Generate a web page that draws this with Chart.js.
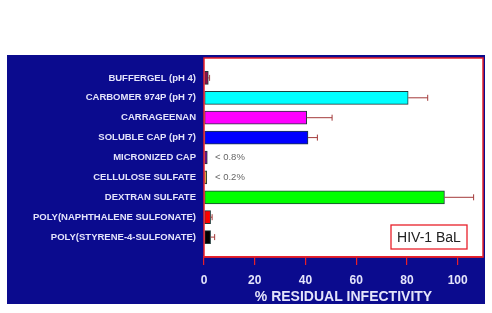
<!DOCTYPE html>
<html>
<head>
<meta charset="utf-8">
<script src="https://cdn.jsdelivr.net/npm/chart.js@4"></script>
<style>
  html, body { margin: 0; padding: 0; background: #ffffff; }
  #wrap { width: 492px; height: 313px; }
</style>
</head>
<body>
<div id="wrap"><canvas id="c" width="492" height="313"></canvas></div>
<script>
const categories = ['BUFFERGEL (pH 4)', 'CARBOMER 974P (pH 7)', 'CARRAGEENAN', 'SOLUBLE CAP (pH 7)', 'MICRONIZED CAP', 'CELLULOSE SULFATE', 'DEXTRAN SULFATE', 'POLY(NAPHTHALENE SULFONATE)', 'POLY(STYRENE-4-SULFONATE)'];
const values = [1.7, 80.5, 40.5, 41, 1.3, 1.1, 94.8, 2.6, 2.6];
const errors = [0.5, 7.7, 10, 3.7, 0, 0, 11.5, 0.6, 1.6];
const notes = ['', '', '', '', '< 0.8%', '< 0.2%', '', '', ''];
const barColors = ['#8a0f4e', '#00ffff', '#ff00ff', '#0000ff', '#7a0aa0', '#f5a623', '#00ff00', '#ff0000', '#000000'];
const xTicks = [0, 20, 40, 60, 80, 100];
const axisTitle = '% RESIDUAL INFECTIVITY';
const boxLabel = 'HIV-1 BaL';

const NAVY = '#0b0b8e';
const RED = '#e8202a';
const LABEL = '#e4e4fb';
const FONT = "'Liberation Sans', Arial, Helvetica, sans-serif";

const labels = [''].concat(categories, ['']);
const data = [null].concat(values, [null]);
const colors = ['#000'].concat(barColors, ['#000']);

const decor = {
  id: 'decor',
  beforeDraw(chart) {
    const ctx = chart.ctx, a = chart.chartArea;
    ctx.save();
    ctx.fillStyle = '#ffffff';
    ctx.fillRect(0, 0, chart.width, chart.height);
    ctx.fillStyle = NAVY;
    ctx.fillRect(7, 55, 478, 249);
    ctx.fillStyle = '#ffffff';
    ctx.fillRect(a.left, a.top, a.right - a.left, a.bottom - a.top);
    ctx.restore();
  },
  afterDatasetsDraw(chart) {
    const ctx = chart.ctx, a = chart.chartArea;
    const xs = chart.scales.x;
    const meta = chart.getDatasetMeta(0);
    ctx.save();
    ctx.strokeStyle = '#a33a3a';
    ctx.lineWidth = 1;
    values.forEach((v, i) => {
      const el = meta.data[i + 1];
      if (!el || !errors[i]) return;
      const x0 = xs.getPixelForValue(v);
      const x1 = xs.getPixelForValue(v + errors[i]);
      ctx.beginPath();
      ctx.moveTo(x0, el.y);
      ctx.lineTo(x1, el.y);
      ctx.moveTo(x1, el.y - 3);
      ctx.lineTo(x1, el.y + 3);
      ctx.stroke();
    });
    ctx.fillStyle = '#666666';
    ctx.font = '9.5px ' + FONT;
    ctx.textBaseline = 'middle';
    ctx.textAlign = 'left';
    notes.forEach((n, i) => {
      if (!n) return;
      const el = meta.data[i + 1];
      ctx.fillText(n, xs.getPixelForValue(0) + 11, el.y);
    });
    ctx.strokeStyle = RED;
    ctx.lineWidth = 1.5;
    ctx.strokeRect(a.left, a.top, a.right - a.left, a.bottom - a.top);
    const bx = a.right - 92, by = a.bottom - 32, bw = 76, bh = 24;
    ctx.fillStyle = '#ffffff';
    ctx.fillRect(bx, by, bw, bh);
    ctx.strokeStyle = RED;
    ctx.lineWidth = 1.3;
    ctx.strokeRect(bx, by, bw, bh);
    ctx.fillStyle = '#222222';
    ctx.font = '14px ' + FONT;
    ctx.textAlign = 'center';
    ctx.fillText(boxLabel, bx + bw / 2, by + bh / 2 + 1);
    ctx.restore();
  }
};

new Chart(document.getElementById('c'), {
  type: 'bar',
  data: {
    labels: labels,
    datasets: [{
      data: data,
      backgroundColor: colors,
      borderColor: '#1f3a3a',
      borderWidth: 1,
      borderSkipped: false,
      barThickness: 13
    }]
  },
  options: {
    indexAxis: 'y',
    responsive: false,
    animation: false,
    devicePixelRatio: 1,
    layout: { padding: { left: 0, top: 58, right: 9, bottom: 0 } },
    plugins: { legend: { display: false }, tooltip: { enabled: false } },
    scales: {
      y: {
        type: 'category',
        offset: false,
        grid: { display: false, drawTicks: false },
        border: { display: false },
        ticks: {
          autoSkip: false,
          color: LABEL,
          padding: 8,
          font: { family: FONT, size: 9.5, weight: 'bold' }
        },
        afterFit(scale) { scale.width = 204; }
      },
      x: {
        min: 0,
        max: 110,
        grid: { display: true, drawOnChartArea: false, color: RED, tickLength: 8, lineWidth: 1.2 },
        border: { display: true, color: RED, width: 1.5 },
        afterBuildTicks(scale) { scale.ticks = xTicks.map(v => ({ value: v })); },
        ticks: {
          color: LABEL,
          padding: 8,
          maxRotation: 0,
          font: { family: FONT, size: 12, weight: 'bold' }
        },
        title: {
          display: true,
          text: axisTitle,
          color: LABEL,
          padding: { top: 0, bottom: 7 },
          font: { family: FONT, size: 14, weight: 'bold' }
        },
        afterFit(scale) { scale.height = 56; }
      }
    }
  },
  plugins: [decor]
});
</script>
</body>
</html>
